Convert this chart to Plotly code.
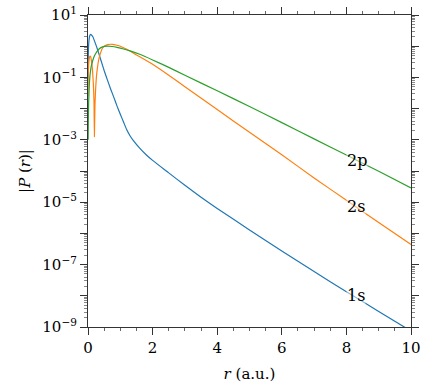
import math
import plotly.graph_objects as go

# radial distance (a.u.) and |P(r)|
r_1s = [0.002, 0.005, 0.01, 0.02, 0.04, 0.06, 0.08, 0.1, 0.15, 0.2, 0.3, 0.4, 0.5, 0.6, 0.7,
        0.8, 0.9, 1.0, 1.1, 1.2, 1.3, 1.4, 1.6, 1.8, 2.0, 2.5, 3.0, 3.5, 4.0, 5.0, 6.0, 7.0,
        8.0, 9.0, 10.0]
p_1s = [0.1, 0.282, 0.562, 1.12, 1.86, 2.24, 2.40, 2.34, 2.0, 1.48, 0.759, 0.355, 0.166,
        0.0832, 0.0427, 0.0229, 0.0120, 6.61e-3, 3.72e-3, 2.09e-3, 1.35e-3, 9.55e-4, 5.37e-4,
        3.31e-4, 2.19e-4, 8.7e-5, 3.47e-5, 1.45e-5, 6.3e-6, 1.29e-6, 2.75e-7, 6.0e-8,
        1.35e-8, 3.16e-9, 7.4e-10]

r_2s = [0.002, 0.005, 0.01, 0.02, 0.04, 0.06, 0.08, 0.1, 0.13, 0.165, 0.185, 0.198, 0.215,
        0.235, 0.27, 0.35, 0.47, 0.6, 0.75, 0.9, 1.0, 1.2, 1.5, 2.0, 2.5, 3.0, 4.0, 5.0,
        6.0, 7.0, 8.0, 9.0, 10.0]
p_2s = [0.0251, 0.0631, 0.126, 0.251, 0.417, 0.479, 0.468, 0.380, 0.219, 0.0631, 0.0178,
        1.26e-3, 0.0126, 0.0398, 0.132, 0.447, 0.933, 1.12, 1.15, 1.07, 1.0, 0.794, 0.525,
        0.263, 0.117, 0.0501, 9.3e-3, 1.74e-3, 3.3e-4, 6.0e-5, 1.15e-5, 2.24e-6, 4.4e-7]

r_2p = [0.005, 0.01, 0.02, 0.04, 0.06, 0.08, 0.1, 0.15, 0.2, 0.27, 0.35, 0.45, 0.6, 0.75,
        0.9, 1.1, 1.3, 1.6, 2.0, 2.5, 3.0, 4.0, 5.0, 6.0, 7.0, 8.0, 9.0, 10.0]
p_2p = [1.0e-3, 3.98e-3, 0.0158, 0.0562, 0.112, 0.166, 0.224, 0.355, 0.490, 0.661, 0.832,
        0.955, 1.0, 0.977, 0.912, 0.813, 0.708, 0.550, 0.363, 0.209, 0.117, 0.0372, 0.0117,
        3.55e-3, 1.07e-3, 3.24e-4, 9.8e-5, 2.88e-5]

orbitals = ["1s", "2s", "2p"]
colors = ["#1f77b4", "#ff7f0e", "#2ca02c"]
label_y = [1.0e-8, 7.5e-6, 2.2e-4]

x_ticks = [0, 2, 4, 6, 8, 10]
y_label_exps = [1, -1, -3, -5, -7, -9]
y_extra_exps = [0, -2, -4, -6, -8]

FONT = "DejaVu Serif"
FS = 15
AXC = "#333333"

fig = go.Figure()
for name, rr, pp, c in zip(orbitals, [r_1s, r_2s, r_2p], [p_1s, p_2s, p_2p], colors):
    fig.add_trace(go.Scatter(x=rr, y=pp, mode="lines", name=name,
                             line=dict(color=c, width=1.2, shape="spline", smoothing=0.5)))

# invisible trace so the overlay axis (unlabelled decade ticks) is drawn
fig.add_trace(go.Scatter(x=[0], y=[1], yaxis="y2", mode="markers",
                         marker=dict(opacity=0), hoverinfo="skip"))

for name, ly in zip(orbitals, label_y):
    fig.add_annotation(x=8.0, y=math.log10(ly), text=name, showarrow=False,
                       xanchor="left", yanchor="middle",
                       font=dict(family=FONT, size=FS + 1, color="black"),
                       bgcolor="rgba(255,255,255,0.5)", borderpad=0)

axis_common = dict(showline=True, linecolor=AXC, linewidth=1.2, mirror="ticks",
                   ticks="outside", ticklen=7, tickwidth=1, tickcolor=AXC,
                   showgrid=False, zeroline=False, automargin=False,
                   ticklabeloverflow="allow",
                   tickfont=dict(family=FONT, size=FS, color="black"))

fig.update_layout(
    xaxis=dict(range=[0, 10], tickvals=x_ticks,
               title=dict(text="<i>r</i> (a.u.)", font=dict(family=FONT, size=FS, color="black"), standoff=12),
               minor=dict(ticks="outside", ticklen=3, tickcolor="#666666", dtick=0.5),
               **axis_common),
    yaxis=dict(type="log", range=[-9, 1], tickvals=[10.0 ** e for e in y_label_exps],
               ticktext=["10<sup>%s</sup>" % str(e).replace("-", "\u2212") for e in y_label_exps],
               title=dict(text="|<i>P</i> (<i>r</i>)|", font=dict(family=FONT, size=FS, color="black"), standoff=8),
               minor=dict(ticks="outside", ticklen=3, tickcolor="#888888", dtick="D1"),
               **axis_common),
    yaxis2=dict(type="log", range=[-9, 1], overlaying="y", side="left", showline=False,
                tickvals=[10.0 ** e for e in y_extra_exps], showticklabels=False,
                ticks="outside", ticklen=7, tickwidth=1, tickcolor=AXC, mirror="ticks",
                showgrid=False, zeroline=False, automargin=False),
    width=426, height=391, showlegend=False,
    margin=dict(l=88, r=15, t=15, b=64),
    plot_bgcolor="white", paper_bgcolor="white",
    font=dict(family=FONT, size=FS, color="black"),
)

# drop the default 8px page margin so the figure fills the window
fig.write_html("out.html", config={"displayModeBar": False},
               post_script="document.body.style.margin = '0px';")
